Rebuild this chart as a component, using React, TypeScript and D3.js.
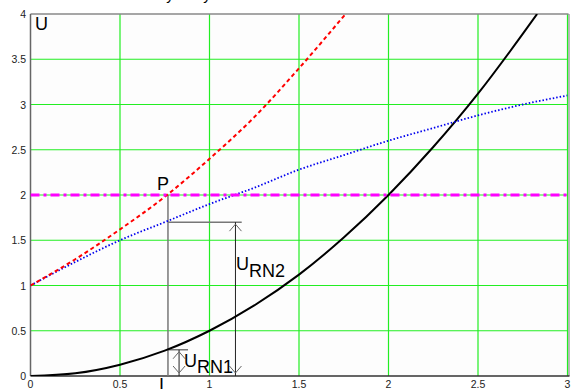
import * as d3 from 'd3';

// x = current, y = voltage
const xTicks = [0, 0.5, 1, 1.5, 2, 2.5, 3];
const yTicks = [0, 0.5, 1, 1.5, 2, 2.5, 3, 3.5, 4];
const xTickLabels = ['0', '0.5', '1', '1.5', '2', '2.5', '3'];
const yTickLabels = ['0', '0.5', '1', '1.5', '2', '2.5', '3', '3.5', '4'];

// nonlinear element (black, solid)
const rn1X = [0, 0.25, 0.5, 0.75, 1.0, 1.25, 1.5, 1.75, 2.0, 2.25, 2.5, 2.75, 2.83];
const rn1Y = [0, 0.03, 0.125, 0.28, 0.5, 0.78, 1.12, 1.53, 2.0, 2.53, 3.12, 3.78, 4.0];

// second element (blue, dotted)
const rn2X = [0, 0.25, 0.5, 0.75, 1.0, 1.25, 1.5, 1.75, 2.0, 2.25, 2.5, 2.75, 3.0];
const rn2Y = [1.0, 1.26, 1.5, 1.7, 1.9, 2.08, 2.28, 2.44, 2.6, 2.74, 2.88, 3.0, 3.1];

// total characteristic (red, dashed)
const sumX = [0, 0.25, 0.5, 0.75, 1.0, 1.25, 1.5, 1.76];
const sumY = [1.0, 1.29, 1.62, 1.98, 2.4, 2.86, 3.4, 4.0];

// source voltage (magenta, dash-dot)
const srcX = [0, 3];
const srcY = [2, 2];

// working point P and the two voltage drops
const pX = 0.768;
const pU = 2;
const uRN2 = 1.7;
const uRN1 = 0.29;
const rn2ArrowX = 1.145;
const rn2LineEnd = 1.18;
const rn1ArrowX = 0.83;
const rn1LineEnd = 0.88;

const W = 576;
const H = 389;

export default function App() {
  const x = d3.scaleLinear().domain([0, 3]).range([30.5, 567.5]);
  const y = d3.scaleLinear().domain([0, 4]).range([376, 14]);

  const line = (xs: number[], ys: number[]) =>
    d3.line<number>()
      .x((_, i) => x(xs[i]))
      .y(d => y(d))
      .curve(d3.curveMonotoneX)(ys) || '';

  const chevron = (cx: number, cy: number, up: boolean) => {
    const d = up ? 7 : -7;
    return `M${cx - 6},${cy + d} L${cx},${cy} L${cx + 6},${cy + d}`;
  };

  const tickFont = { fontFamily: '"Liberation Sans", Arial, sans-serif', fontSize: 10.5, fill: '#222' };
  const bigFont = { fontFamily: '"Liberation Sans", Arial, sans-serif', fontSize: 18, fill: '#000' };

  return (
    <div style={{ position: 'fixed', left: 0, top: 0 }}>
      <svg width={W} height={H} style={{ display: 'block', background: '#fff' }}>
        <defs>
          <clipPath id="plot">
            <rect x={x(0)} y={y(4)} width={x(3) - x(0)} height={y(0) - y(4)} />
          </clipPath>
        </defs>

        <rect x={x(0)} y={y(4)} width={x(3) - x(0)} height={y(0) - y(4)} fill="#fdfdfd" />

        {/* grid */}
        {xTicks.slice(1).map(t => (
          <line key={'gx' + t} x1={x(t)} x2={x(t)} y1={y(0)} y2={y(4)} stroke="#22ee22" strokeWidth={1.2} />
        ))}
        {yTicks.slice(1, -1).map(t => (
          <line key={'gy' + t} x1={x(0)} x2={x(3)} y1={y(t)} y2={y(t)} stroke="#22ee22" strokeWidth={1.2} />
        ))}

        {/* frame */}
        <line x1={x(0)} x2={x(3) + 1} y1={y(4)} y2={y(4)} stroke="#888" strokeWidth={1.5} />
        <line x1={x(0)} x2={x(0)} y1={y(4)} y2={y(0)} stroke="#666" strokeWidth={1.5} />
        <line x1={x(3) + 1.5} x2={x(3) + 1.5} y1={y(4)} y2={y(0)} stroke="#777" strokeWidth={1} />
        <line x1={x(0)} x2={x(3) + 2} y1={y(0)} y2={y(0)} stroke="#333" strokeWidth={1.5} />

        {/* tick labels */}
        {yTicks.map((t, i) => (
          <text key={'ty' + t} x={26} y={y(t) + 4} textAnchor="end" {...tickFont}>{yTickLabels[i]}</text>
        ))}
        {xTicks.map((t, i) => (
          <text key={'tx' + t} x={x(t)} y={388} textAnchor="middle" {...tickFont}>{xTickLabels[i]}</text>
        ))}

        {/* annotation lines */}
        <g stroke="#777" strokeWidth={1.5} fill="none">
          <line x1={x(pX)} x2={x(pX)} y1={y(pU)} y2={y(0)} />
          <line x1={x(pX)} x2={x(rn2LineEnd)} y1={y(uRN2)} y2={y(uRN2)} />
          <line x1={x(pX)} x2={x(rn1LineEnd)} y1={y(uRN1)} y2={y(uRN1)} />
        </g>
        <g stroke="#222" strokeWidth={1} fill="none">
          <line x1={x(rn2ArrowX)} x2={x(rn2ArrowX)} y1={y(uRN2)} y2={y(0)} />
          <path d={chevron(x(rn2ArrowX), y(uRN2) + 2, true)} stroke="#666" />
          <path d={chevron(x(rn2ArrowX), y(0) - 3, false)} stroke="#666" />
          <line x1={x(rn1ArrowX)} x2={x(rn1ArrowX)} y1={y(uRN1)} y2={y(0)} />
          <path d={chevron(x(rn1ArrowX), y(uRN1) + 2, true)} stroke="#666" />
          <path d={chevron(x(rn1ArrowX), y(0) - 3, false)} stroke="#666" />
        </g>

        {/* curves */}
        <g clipPath="url(#plot)" fill="none">
          <path d={line(rn1X, rn1Y)} stroke="#000" strokeWidth={2} />
          <path d={line(rn2X, rn2Y)} stroke="#0000ee" strokeWidth={1.8} strokeDasharray="1.5,2" />
          <path d={line(sumX, sumY)} stroke="#ff0000" strokeWidth={2} strokeDasharray="4,3" />
          <path d={line(srcX, srcY)} stroke="#ff00ff" strokeWidth={3} strokeDasharray="9,4,3,4" />
        </g>

        {/* labels */}
        <text x={35} y={30} {...bigFont}>U</text>
        <text x={157} y={190} {...bigFont}>P</text>
        <text x={236} y={270} {...bigFont}>U<tspan dy={7}>RN2</tspan></text>
        <text x={184} y={367} {...bigFont}>U<tspan dy={6}>RN1</tspan></text>
        <text x={161.5} y={391} textAnchor="middle" {...bigFont}>I</text>
        <text x={170} y={0} textAnchor="middle" {...bigFont} fontSize={15}>y</text>
        <text x={207} y={0} textAnchor="middle" {...bigFont} fontSize={15}>y</text>
      </svg>
    </div>
  );
}
